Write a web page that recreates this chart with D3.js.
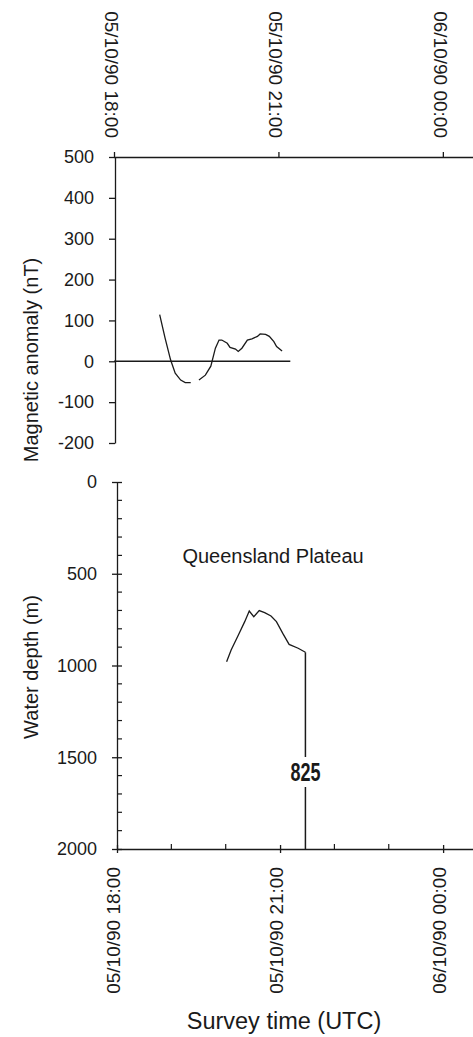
<!DOCTYPE html>
<html>
<head>
<meta charset="utf-8">
<script src="https://cdn.jsdelivr.net/npm/d3@7"></script>
<style>
  html, body { margin: 0; padding: 0; background: #fff; }
  svg { display: block; }
  text { font-family: "Liberation Sans", Arial, Helvetica, sans-serif; fill: #1a1a1a; }
  .axis path, .axis line { stroke: #1a1a1a; stroke-width: 1.3; }
</style>
</head>
<body>
<script>
// Survey timeline: magnetic anomaly and water depth along the ship track
const dayStart = "1990-10-05";

const timeTicks = ["1990-10-05 18:00", "1990-10-05 21:00", "1990-10-06 00:00"];
const hourTicks = ["1990-10-05 19:00", "1990-10-05 20:00", "1990-10-05 22:00", "1990-10-05 23:00"];
const timeDomain = ["1990-10-05 18:00", "1990-10-06 00:33"];

const magTicks = [500, 400, 300, 200, 100, 0, -100, -200];
const magTime = ["18:50", "18:56", "19:02", "19:07", "19:13", "19:18", "19:24", "19:28",
  "19:33", "19:40", "19:46", "19:51", "19:55", "19:58", "20:04", "20:07", "20:13", "20:16",
  "20:20", "20:26", "20:31", "20:37", "20:40", "20:46", "20:50", "20:55", "20:58", "21:04"];
const magValue = [114, 56, 3, -29, -46, -52, -52, null,
  -46, -34, -12, 32, 52, 52, 44, 34, 30, 24,
  32, 52, 55, 61, 67, 66, 61, 48, 36, 25];
const magZeroEnd = "21:13";

const depthTicks = [0, 500, 1000, 1500, 2000];
const depthMinor = [100, 200, 300, 400, 600, 700, 800, 900, 1100, 1200, 1300, 1400, 1600, 1700, 1800, 1900];
const depthTime = ["20:01", "20:06", "20:14", "20:21", "20:26", "20:31", "20:37", "20:43",
  "20:50", "20:56", "21:03", "21:10", "21:20", "21:28"];
const depthValue = [979, 916, 834, 761, 703, 734, 701, 712, 730, 761, 825, 885, 906, 928];

const siteTime = "21:28";
const siteName = "825";
const regionName = "Queensland Plateau";

const parseFull = d3.timeParse("%Y-%m-%d %H:%M");
const atTime = t => parseFull(dayStart + " " + t);
const fmt = d3.timeFormat("%d/%m/%y %H:%M");
const numFmt = d => String(d); // plain hyphen minus, no grouping

const W = 473, H = 1037;
const svg = d3.select("body").append("svg").attr("width", W).attr("height", H);

// ---------- Magnetic anomaly panel ----------
const xTop = d3.scaleTime().domain(timeDomain.map(parseFull)).range([114, 473]);
const yMag = d3.scaleLinear().domain([-200, 500]).range([443, 157]);

const topAxis = svg.append("g").attr("class", "axis").attr("transform", "translate(0,157)")
  .call(d3.axisTop(xTop).tickValues(timeTicks.map(parseFull)).tickSizeInner(5).tickSizeOuter(0).tickFormat(""));
topAxis.selectAll(".tick text").remove();

svg.append("g").selectAll("text").data(timeTicks.map(parseFull)).join("text")
  .attr("transform", d => `translate(${xTop(d) - 9},${157 - 19}) rotate(90)`)
  .attr("text-anchor", "end")
  .attr("font-size", 19)
  .text(d => fmt(d));

const magAxis = svg.append("g").attr("class", "axis").attr("transform", "translate(115,0)")
  .call(d3.axisLeft(yMag).tickValues(magTicks).tickFormat(numFmt).tickSizeInner(6).tickSizeOuter(0).tickPadding(15));
magAxis.selectAll(".tick text").attr("font-size", 18).attr("font-family", "Liberation Sans, Arial, sans-serif").attr("fill", "#1a1a1a");

svg.append("text")
  .attr("transform", `translate(38,${360}) rotate(-90)`)
  .attr("text-anchor", "middle")
  .attr("font-size", 20)
  .attr("fill", "#444")
  .text("Magnetic anomaly (nT)");

// zero reference line
svg.append("line")
  .attr("x1", xTop(parseFull(timeDomain[0]))).attr("x2", xTop(atTime(magZeroEnd)))
  .attr("y1", yMag(0)).attr("y2", yMag(0))
  .attr("stroke", "#1a1a1a").attr("stroke-width", 1.4);

const magData = magTime.map((t, i) => ({ t: atTime(t), v: magValue[i] }));
svg.append("path")
  .datum(magData)
  .attr("fill", "none").attr("stroke", "#1a1a1a").attr("stroke-width", 1.3)
  .attr("d", d3.line().defined(d => d.v !== null).x(d => xTop(d.t)).y(d => yMag(d.v)));

// ---------- Water depth panel ----------
const xBot = d3.scaleTime().domain(timeDomain.map(parseFull)).range([117, 473]);
const yDepth = d3.scaleLinear().domain([0, 2000]).range([482, 849]);

// minor depth ticks (inside)
svg.append("g").selectAll("line").data(depthMinor).join("line")
  .attr("x1", 117).attr("x2", 122)
  .attr("y1", d => yDepth(d)).attr("y2", d => yDepth(d))
  .attr("stroke", "#1a1a1a").attr("stroke-width", 1.2);

const depthAxis = svg.append("g").attr("class", "axis").attr("transform", "translate(117,0)")
  .call(d3.axisLeft(yDepth).tickValues(depthTicks).tickFormat(numFmt).tickSizeInner(-5).tickSizeOuter(0).tickPadding(20));
depthAxis.selectAll(".tick line").attr("x1", -5).attr("x2", 5);
depthAxis.selectAll(".tick text").attr("font-size", 18).attr("font-family", "Liberation Sans, Arial, sans-serif").attr("fill", "#1a1a1a").attr("x", -20);

svg.append("text")
  .attr("transform", `translate(38,${667}) rotate(-90)`)
  .attr("text-anchor", "middle")
  .attr("font-size", 20)
  .attr("fill", "#444")
  .text("Water depth (m)");

// minor hour ticks (inside)
svg.append("g").selectAll("line").data(hourTicks.map(parseFull)).join("line")
  .attr("x1", d => xBot(d)).attr("x2", d => xBot(d))
  .attr("y1", 849).attr("y2", 844)
  .attr("stroke", "#1a1a1a").attr("stroke-width", 1.2);

const botAxis = svg.append("g").attr("class", "axis").attr("transform", "translate(0,849)")
  .call(d3.axisBottom(xBot).tickValues(timeTicks.map(parseFull)).tickSizeInner(4).tickSizeOuter(0).tickFormat(""));
botAxis.selectAll(".tick line").attr("y1", -4).attr("y2", 4);

svg.append("g").selectAll("text").data(timeTicks.map(parseFull)).join("text")
  .attr("transform", d => `translate(${xBot(d) + 3},${849 + 18}) rotate(-90)`)
  .attr("text-anchor", "end")
  .attr("font-size", 19)
  .text(d => fmt(d));

svg.append("text")
  .attr("x", 284).attr("y", 1029)
  .attr("text-anchor", "middle")
  .attr("font-size", 23.5)
  .text("Survey time (UTC)");

svg.append("text")
  .attr("x", 273).attr("y", 563)
  .attr("text-anchor", "middle")
  .attr("font-size", 20)
  .text(regionName);

const depthData = depthTime.map((t, i) => ({ t: atTime(t), v: depthValue[i] }));
svg.append("path")
  .datum(depthData)
  .attr("fill", "none").attr("stroke", "#1a1a1a").attr("stroke-width", 1.3)
  .attr("d", d3.line().x(d => xBot(d.t)).y(d => yDepth(d.v)));

// drill site marker with condensed label
const sx = xBot(atTime(siteTime));
const sDepth = depthValue[depthTime.indexOf(siteTime)];
const labelY = 772;
svg.append("line").attr("x1", sx).attr("x2", sx)
  .attr("y1", yDepth(sDepth)).attr("y2", labelY - 15)
  .attr("stroke", "#1a1a1a").attr("stroke-width", 1.5);
svg.append("line").attr("x1", sx).attr("x2", sx)
  .attr("y1", labelY + 15).attr("y2", yDepth(2000))
  .attr("stroke", "#1a1a1a").attr("stroke-width", 1.5);
svg.append("text")
  .attr("x", sx).attr("y", labelY + 9.5)
  .attr("text-anchor", "middle")
  .attr("font-size", 25)
  .attr("font-weight", "bold")
  .attr("transform", `translate(${sx},0) scale(0.72,1) translate(${-sx},0)`)
  .text(siteName);
</script>
</body>
</html>
